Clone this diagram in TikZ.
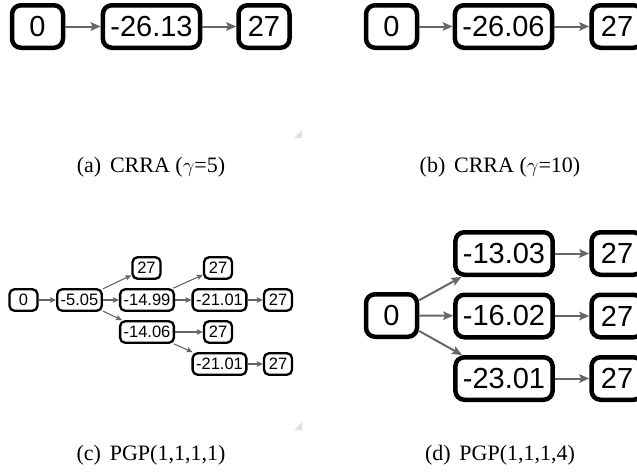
\documentclass[tikz,border=0pt]{standalone}
\usepackage{fontspec}
\newfontfamily\boxfont{Liberation Sans}
\newfontfamily\capfont{Liberation Serif}
\usetikzlibrary{arrows.meta}
\definecolor{arrowgray}{HTML}{666666}
\begin{document}
\begin{tikzpicture}[x=1pt,y=-1pt,
  bigbox/.style={draw=black, line width=4.5pt, rounded corners=9pt, fill=white,
    font=\boxfont\fontsize{29}{29}\selectfont, minimum height=42.5pt, minimum width=51pt,
    inner xsep=7.5pt, inner ysep=0pt},
  smallbox/.style={draw=black, line width=2.3pt, rounded corners=5pt, fill=white,
    font=\boxfont\fontsize{16.5}{16.5}\selectfont, minimum height=21.5pt, minimum width=28pt,
    inner xsep=3.5pt, inner ysep=0pt},
  bigarrow/.style={draw=arrowgray, line width=2pt, -{Stealth[length=10pt,width=8.5pt,inset=2pt]}},
  smallarrow/.style={draw=arrowgray, line width=1.1pt, -{Stealth[length=6pt,width=5.5pt,inset=1pt]}},
  captext/.style={font=\capfont\fontsize{22}{26}\selectfont, inner sep=0pt},
  grip/.style={fill=black!12, draw=none}
]
\useasboundingbox (0,0) rectangle (637,472);
\clip (0,0) rectangle (637,472);

% (a)
\node[bigbox] (a0) at (37.5,26.5) {0};
\node[bigbox] (a1) at (151.5,26.5) {-26.13};
\node[bigbox] (a2) at (264,26.5) {27};
\draw[bigarrow] (a0) -- (a1);
\draw[bigarrow] (a1) -- (a2);

% (b)
\node[bigbox] (b0) at (391.5,26.5) {0};
\node[bigbox] (b1) at (503.5,26.5) {-26.06};
\node[bigbox] (b2) at (617,26.5) {27};
\draw[bigarrow] (b0) -- (b1);
\draw[bigarrow] (b1) -- (b2);

% (c)
\node[smallbox] (c0) at (23.5,300) {0};
\node[smallbox] (c1) at (79.5,300) {-5.05};
\node[smallbox] (c2) at (146.5,268) {27};
\node[smallbox] (c3) at (147,300) {-14.99};
\node[smallbox] (c4) at (147,332) {-14.06};
\node[smallbox] (c5) at (218,268) {27};
\node[smallbox] (c6) at (219.5,300) {-21.01};
\node[smallbox] (c7) at (218,332) {27};
\node[smallbox] (c8) at (219.5,364) {-21.01};
\node[smallbox] (c9) at (278,300) {27};
\node[smallbox] (c10) at (278,364) {27};
\draw[smallarrow] (c0) -- (c1);
\draw[smallarrow] (c1) -- (c2);
\draw[smallarrow] (c1) -- (c3);
\draw[smallarrow] (c1) -- (c4);
\draw[smallarrow] (c3) -- (c5);
\draw[smallarrow] (c3) -- (c6);
\draw[smallarrow] (c6) -- (c9);
\draw[smallarrow] (c4) -- (c7);
\draw[smallarrow] (c4) -- (c8);
\draw[smallarrow] (c8) -- (c10);

% (d)
\node[bigbox] (d0) at (391.5,315.5) {0};
\node[bigbox] (d1) at (504,253.5) {-13.03};
\node[bigbox] (d2) at (504,316) {-16.02};
\node[bigbox] (d3) at (504,378.5) {-23.01};
\node[bigbox] (d4) at (617,253.5) {27};
\node[bigbox] (d5) at (617,316) {27};
\node[bigbox] (d6) at (617,378.5) {27};
\draw[bigarrow] (d0) -- (d1);
\draw[bigarrow] (d0) -- (d2);
\draw[bigarrow] (d0) -- (d3);
\draw[bigarrow] (d1) -- (d4);
\draw[bigarrow] (d2) -- (d5);
\draw[bigarrow] (d3) -- (d6);

% captions
\node[captext] (capa) at (151,167) {(a)\hspace{0.4em}CRRA ($\gamma$=5)};
\node[captext] (capb) at (500,167) {(b)\hspace{0.4em}CRRA ($\gamma$=10)};
\node[captext] (capc) at (151,455) {(c)\hspace{0.4em}PGP(1,1,1,1)};
\node[captext] (capd) at (500,455) {(d)\hspace{0.4em}PGP(1,1,1,4)};

% grips
\fill[grip] (302,130) -- (302,138) -- (294,138) -- cycle;
\fill[grip] (302,422) -- (302,430) -- (294,430) -- cycle;
\end{tikzpicture}
\end{document}
